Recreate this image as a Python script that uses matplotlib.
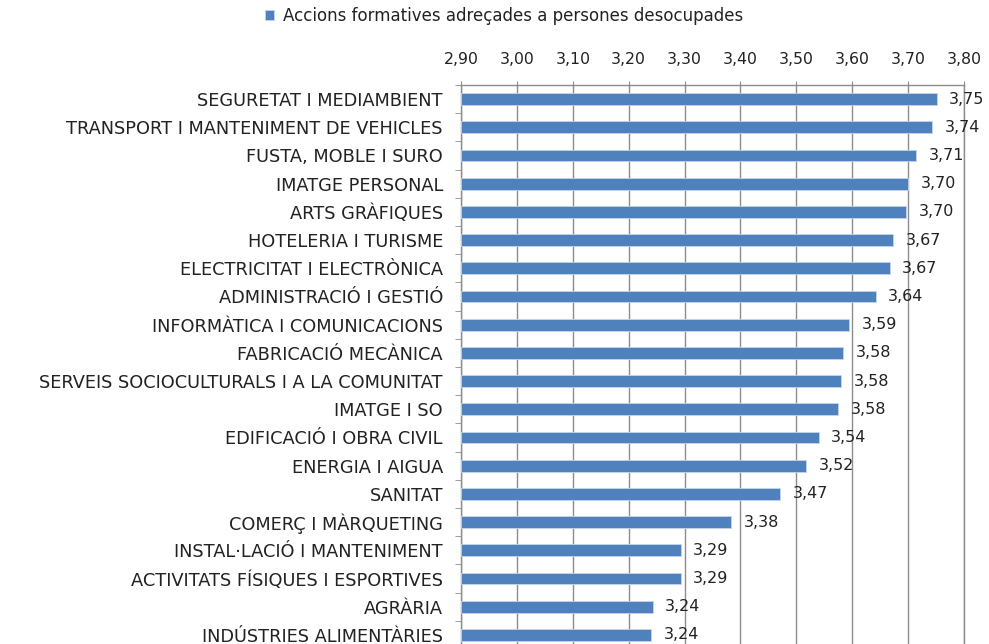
import numpy as np
import matplotlib.pyplot as plt
from matplotlib.ticker import FixedLocator, FuncFormatter

# Dades (de dalt a baix)
familias = [
    "SEGURETAT I MEDIAMBIENT",
    "TRANSPORT I MANTENIMENT DE VEHICLES",
    "FUSTA, MOBLE I SURO",
    "IMATGE PERSONAL",
    "ARTS GRÀFIQUES",
    "HOTELERIA I TURISME",
    "ELECTRICITAT I ELECTRÒNICA",
    "ADMINISTRACIÓ I GESTIÓ",
    "INFORMÀTICA I COMUNICACIONS",
    "FABRICACIÓ MECÀNICA",
    "SERVEIS SOCIOCULTURALS I A LA COMUNITAT",
    "IMATGE I SO",
    "EDIFICACIÓ I OBRA CIVIL",
    "ENERGIA I AIGUA",
    "SANITAT",
    "COMERÇ I MÀRQUETING",
    "INSTAL·LACIÓ I MANTENIMENT",
    "ACTIVITATS FÍSIQUES I ESPORTIVES",
    "AGRÀRIA",
    "INDÚSTRIES ALIMENTÀRIES",
]
valors = [3.751, 3.743, 3.714, 3.700, 3.697, 3.673, 3.667, 3.642, 3.594, 3.584,
          3.580, 3.575, 3.540, 3.518, 3.471, 3.383, 3.293, 3.293, 3.243, 3.240]
ticks_x = [2.90, 3.00, 3.10, 3.20, 3.30, 3.40, 3.50, 3.60, 3.70, 3.80]
serie = "Accions formatives adreçades a persones desocupades"

plt.rcParams['font.family'] = ['DejaVu Sans']
text_color = '#222222'
grid_color = '#8c8c8c'
bar_color = '#4F81BD'

fig = plt.figure(figsize=(9.89, 6.44), dpi=100)
ax = fig.add_axes([461 / 989, -5 / 644, 503 / 989, 564 / 644])

y = np.arange(len(familias))
bars = ax.barh(y, [v - ticks_x[0] for v in valors], left=ticks_x[0], height=0.42,
               color=bar_color, edgecolor='#c6d4e8', linewidth=0.6, zorder=3,
               label=serie)

# Etiquetes de valor
for bar, v in zip(bars, valors):
    ax.annotate(f"{v:.2f}".replace(".", ","),
                (bar.get_x() + bar.get_width(), bar.get_y() + bar.get_height() / 2),
                xytext=(9, 0), textcoords="offset points",
                ha='left', va='center', fontsize=11.5, color=text_color,
                annotation_clip=False)

# Eixos
ax.set_xlim(ticks_x[0], ticks_x[-1])
ax.set_ylim(len(familias) - 0.5, -0.5)
ax.xaxis.tick_top()
ax.xaxis.set_major_locator(FixedLocator(ticks_x))
ax.xaxis.set_major_formatter(FuncFormatter(lambda v, p: f"{v:.2f}".replace(".", ",")))
ax.tick_params(axis='x', length=3, color=grid_color, pad=10, labelsize=11.3,
               labelcolor=text_color)
ax.xaxis.grid(True, color=grid_color, linewidth=1, zorder=0)
ax.set_axisbelow(True)

ax.set_yticks(y)
ax.set_yticklabels(familias, fontsize=12.8, color=text_color)
ax.set_yticks(np.arange(len(familias) + 1) - 0.5, minor=True)
ax.tick_params(axis='y', which='major', length=0, pad=13)
ax.tick_params(axis='y', which='minor', length=4, color=grid_color)

ax.spines['bottom'].set_visible(False)
for s in ['left', 'top', 'right']:
    ax.spines[s].set_color(grid_color)
    ax.spines[s].set_linewidth(1)

# Llegenda
fig.legend(handles=[bars], labels=[serie], loc='center', bbox_to_anchor=(504 / 989, 1 - 16 / 644),
           frameon=False, fontsize=12, handlelength=0.55, handleheight=0.55,
           handletextpad=0.5, labelcolor=text_color)

fig.savefig("out.png", dpi=100)
